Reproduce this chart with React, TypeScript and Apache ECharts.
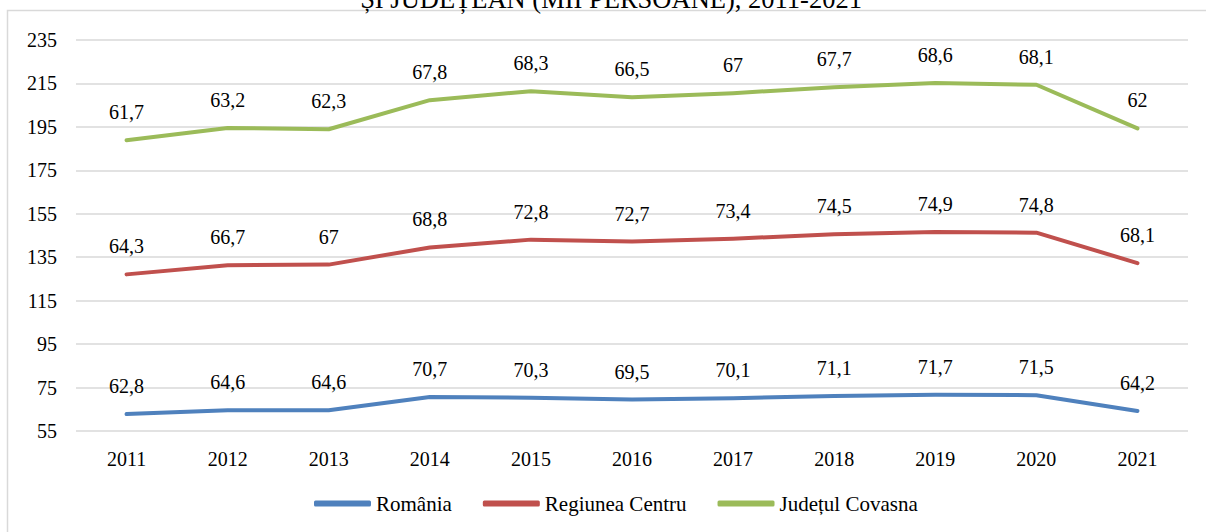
import React, { useEffect, useRef } from "react";
import * as echarts from "echarts";

const years = ["2011", "2012", "2013", "2014", "2015", "2016", "2017", "2018", "2019", "2020", "2021"];
const romania = [62.8, 64.6, 64.6, 70.7, 70.3, 69.5, 70.1, 71.1, 71.7, 71.5, 64.2];
const centru = [64.3, 66.7, 67, 68.8, 72.8, 72.7, 73.4, 74.5, 74.9, 74.8, 68.1];
const covasna = [61.7, 63.2, 62.3, 67.8, 68.3, 66.5, 67, 67.7, 68.6, 68.1, 62];
const seriesNames = ["România", "Regiunea Centru", "Județul Covasna"];
const colors = ["#4F81BD", "#C0504D", "#9BBB59"];
const titleText = "ȘI JUDEȚEAN (MII PERSOANE), 2011-2021";

const FONT = "Liberation Serif";

export default function App() {
  const ref = useRef<HTMLDivElement>(null);
  useEffect(() => {
    document.body.style.margin = "0";
    const chart = echarts.init(ref.current!, null, { renderer: "svg" });
    const mk = (name: string, data: number[], color: string) => ({
      name,
      type: "line",
      stack: "total",
      data,
      color,
      symbol: "circle",
      symbolSize: 0,
      showSymbol: true,
      lineStyle: { width: 4, color, cap: "round", join: "round" },
      itemStyle: { color },
      label: {
        show: true,
        position: "top",
        distance: 18,
        color: "#000",
        fontFamily: FONT,
        fontSize: 20,
        formatter: (p: any) => String(p.value).replace(".", ","),
      },
    });
    chart.setOption({
      animation: false,
      textStyle: { fontFamily: FONT },
      graphic: [
        {
          type: "rect",
          shape: { x: 7.5, y: 10.5, width: 1205, height: 540 },
          style: { fill: "none", stroke: "#d9d9d9", lineWidth: 1.5 },
          silent: true,
        },
        {
          type: "text",
          x: 611,
          y: -1,
          style: {
            text: titleText,
            fontFamily: FONT,
            fontSize: 26.5,
            fill: "#000",
            align: "center",
            verticalAlign: "middle",
          },
        },
      ],
      grid: { left: 76, right: 18, top: 40, bottom: 101, containLabel: false },
      legend: {
        top: 493,
        left: 314,
        padding: 0,
        icon: "roundRect",
        itemWidth: 57,
        itemHeight: 6,
        itemGap: 31,
        textStyle: { fontFamily: FONT, fontSize: 21, color: "#000" },
        data: seriesNames,
      },
      xAxis: {
        type: "category",
        data: years,
        boundaryGap: true,
        axisLine: { show: false },
        axisTick: { show: false },
        axisLabel: { color: "#000", fontFamily: FONT, fontSize: 20, margin: 18 },
      },
      yAxis: {
        type: "value",
        min: 55,
        max: 235,
        interval: 20,
        axisLine: { show: false },
        axisTick: { show: false },
        axisLabel: { color: "#000", fontFamily: FONT, fontSize: 20, margin: 19 },
        splitLine: { lineStyle: { color: "#d9d9d9", width: 1.5 } },
      },
      series: [
        mk(seriesNames[0], romania, colors[0]),
        mk(seriesNames[1], centru, colors[1]),
        mk(seriesNames[2], covasna, colors[2]),
      ],
    });
    return () => chart.dispose();
  }, []);
  return <div ref={ref} style={{ width: 1206, height: 532 }} />;
}
